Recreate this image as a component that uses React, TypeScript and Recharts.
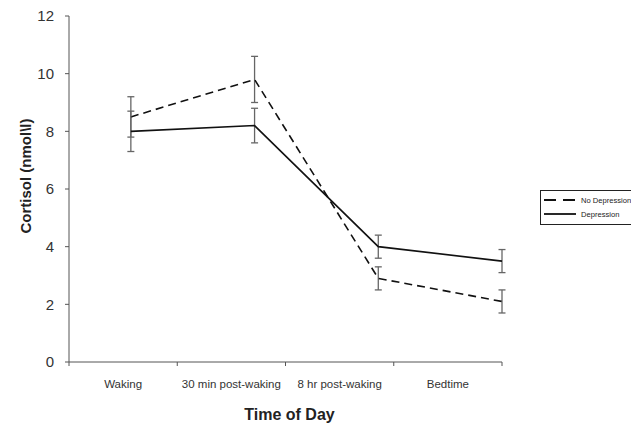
import React from 'react';
import { LineChart, Line, XAxis, YAxis, ErrorBar, Legend } from 'recharts';

const categories = ['Waking', '30 min post-waking', '8 hr post-waking', 'Bedtime'];
const noDepression = [8.5, 9.8, 2.9, 2.1];
const noDepressionErr = [0.7, 0.8, 0.4, 0.4];
const depression = [8.0, 8.2, 4.0, 3.5];
const depressionErr = [0.7, 0.6, 0.4, 0.4];
const yTicks = [0, 2, 4, 6, 8, 10, 12];
const seriesNames = ['No Depression', 'Depression'];

const data = categories.map((c, i) => ({
  label: c,
  pos: i,
  nd: noDepression[i],
  ndErr: noDepressionErr[i],
  d: depression[i],
  dErr: depressionErr[i],
}));

const boundaryTicks = [...categories.map((_, i) => i), categories.length];
const labelTicks = categories.map((_, i) => i + 0.5);

const FONT = '"Liberation Sans", Arial, Helvetica, sans-serif';
const AXIS = '#555';

const dashMap: Record<string, string | undefined> = { nd: '12 7', d: undefined };

const LegendBox = (props: any) => {
  const payload = [...(props.payload || [])].sort(
    (a: any, b: any) => seriesNames.indexOf(a.value) - seriesNames.indexOf(b.value)
  );
  return (
    <div
      style={{
        border: '1px solid #222',
        background: '#fff',
        padding: '2px 0 3px 2px',
        fontFamily: FONT,
        fontSize: 7.6,
        color: '#222',
        width: 120,
        boxSizing: 'border-box',
      }}
    >
      {payload.map((e: any) => (
        <div key={e.value} style={{ display: 'flex', alignItems: 'center', height: 14 }}>
          <svg width={34} height={6} style={{ marginRight: 4 }}>
            <line
              x1={1}
              y1={3}
              x2={33}
              y2={3}
              stroke="#111"
              strokeWidth={1.8}
              strokeDasharray={dashMap[e.dataKey]}
            />
          </svg>
          <span style={{ whiteSpace: 'nowrap' }}>{e.value}</span>
        </div>
      ))}
    </div>
  );
};

export default function App() {
  return (
    <div style={{ position: 'absolute', left: 0, top: 0, width: 631, height: 425, overflow: 'hidden', background: '#fff' }}>
      <LineChart width={631} height={425} data={data} margin={{ top: 16, right: 129, bottom: 0, left: 0 }}>
        <XAxis
          xAxisId="grid"
          dataKey="pos"
          type="number"
          domain={[0, categories.length]}
          ticks={boundaryTicks}
          tickFormatter={() => ''}
          tickSize={4}
          height={10}
          stroke={AXIS}
          tickLine={{ stroke: AXIS }}
          axisLine={{ stroke: AXIS }}
        />
        <XAxis
          xAxisId="labels"
          dataKey="pos"
          type="number"
          domain={[0, categories.length]}
          ticks={labelTicks}
          tickFormatter={(v: number) => categories[Math.floor(v)]}
          axisLine={false}
          tickLine={false}
          tickSize={0}
          tickMargin={8}
          height={53}
          interval={0}
          tick={{ fill: '#333', fontSize: 11.5, fontFamily: FONT }}
          label={(p: any) => {
            const vb = p.viewBox || {};
            return (
              <text
                x={vb.x + vb.width / 2 + 4}
                y={vb.y + vb.height - 5}
                textAnchor="middle"
                fontFamily={FONT}
                fontWeight="bold"
                fontSize={16}
                fill="#222"
              >
                Time of Day
              </text>
            );
          }}
        />
        <XAxis xAxisId="pts" dataKey="pos" type="number" domain={[-0.5, categories.length - 1]} hide />
        <YAxis
          width={69}
          domain={[0, 12]}
          ticks={yTicks}
          tickSize={4}
          tickMargin={11}
          stroke={AXIS}
          tick={{ fill: '#333', fontSize: 15, fontFamily: FONT }}
          label={() => (
            <text
              x={31}
              y={176}
              transform="rotate(-90, 31, 176)"
              textAnchor="middle"
              fontFamily={FONT}
              fontWeight="bold"
              fontSize={15}
              fill="#222"
            >
              {'Cortisol (nmol\\l)'}
            </text>
          )}
        />
        <Legend
          layout="vertical"
          align="center"
          verticalAlign="middle"
          content={<LegendBox />}
          wrapperStyle={{ left: 540, top: 190, width: 120 }}
        />
        <Line
          xAxisId="pts"
          dataKey="nd"
          name={seriesNames[0]}
          stroke="#111"
          strokeWidth={1.6}
          strokeDasharray="8 5"
          dot={false}
          isAnimationActive={false}
        >
          <ErrorBar dataKey="ndErr" width={3.5} stroke="#666" strokeWidth={1.3} direction="y" isAnimationActive={false} />
        </Line>
        <Line
          xAxisId="pts"
          dataKey="d"
          name={seriesNames[1]}
          stroke="#111"
          strokeWidth={1.6}
          dot={false}
          isAnimationActive={false}
        >
          <ErrorBar dataKey="dErr" width={3.5} stroke="#666" strokeWidth={1.3} direction="y" isAnimationActive={false} />
        </Line>
      </LineChart>
    </div>
  );
}
